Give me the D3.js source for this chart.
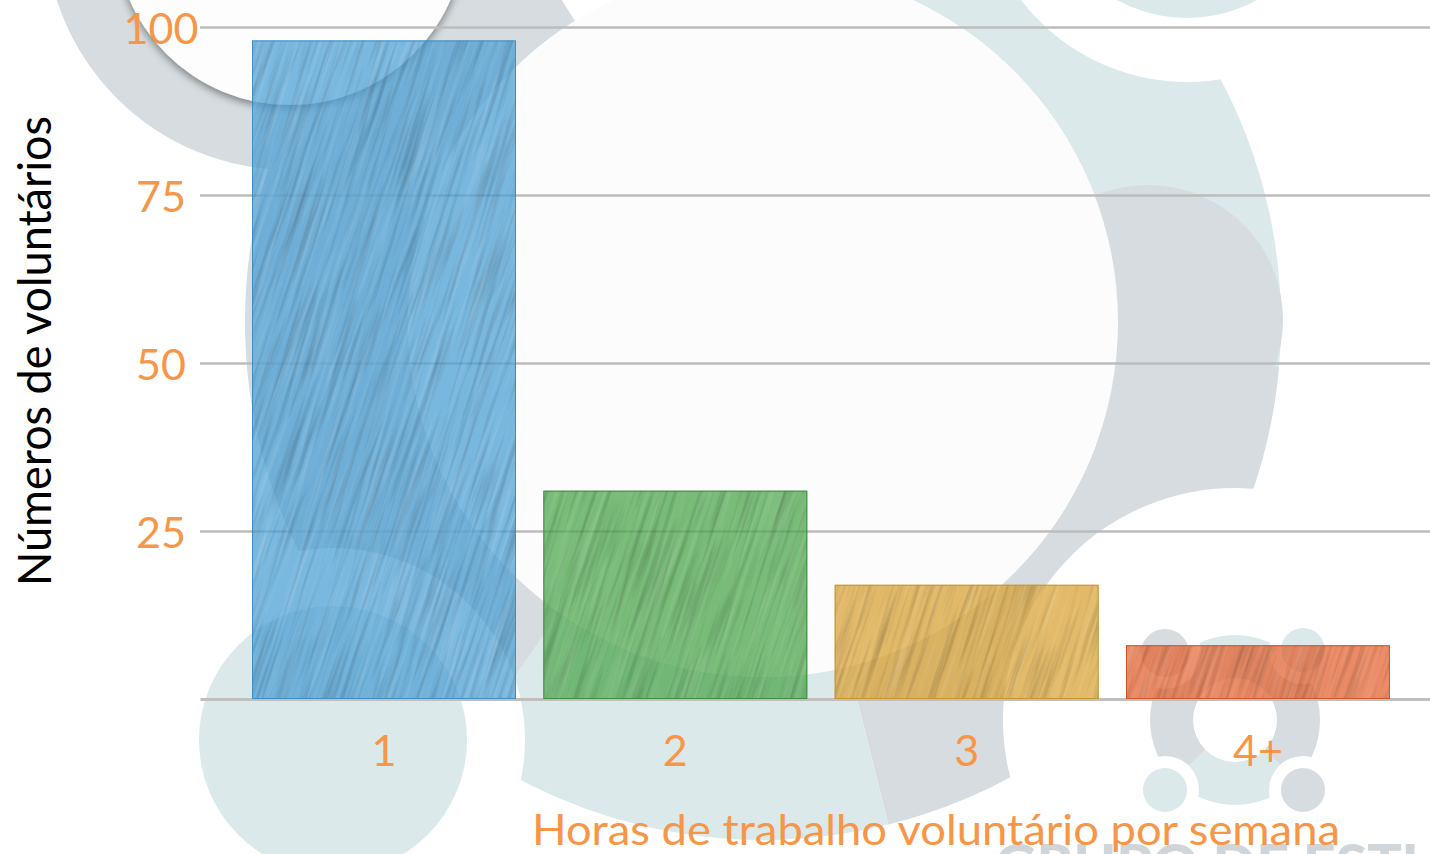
<!DOCTYPE html>
<html>
<head>
<meta charset="utf-8">
<script src="https://cdn.jsdelivr.net/npm/d3@7"></script>
<style>
  html, body { margin: 0; padding: 0; background: #ffffff; overflow: hidden; }
  svg { display: block; }
  text { font-family: Lato, "Open Sans", sans-serif; }
</style>
</head>
<body>
<script>
// ---------- data ----------
const categories = ["1", "2", "3", "4+"];
const values = [98, 31, 17, 8];
const yTicks = [25, 50, 75, 100];
const yDomain = [0, 100];
const barFill = ["#4a9fd4", "#4ca64c", "#d9a235", "#e2622f"];
const barStroke = ["#3f8fc4", "#3d8f3d", "#c99428", "#cf5526"];
const yTitle = "Números de voluntários";
const xTitle = "Horas de trabalho voluntário por semana";
const watermarkText = "GRUPO DE ESTUDO";

// ---------- setup ----------
const W = 1430, H = 854;
const BLUE = "#dbe9eb", GRAY = "#d6dcdf", ORANGE = "#f79646";
const svg = d3.select("body").append("svg").attr("width", W).attr("height", H);
const defs = svg.append("defs");

const shadow = defs.append("filter").attr("id", "shadow")
  .attr("x", "-20%").attr("y", "-20%").attr("width", "140%").attr("height", "140%");
shadow.append("feDropShadow").attr("dx", 0).attr("dy", 3).attr("stdDeviation", 4)
  .attr("flood-color", "#000").attr("flood-opacity", 0.45);

function streakFilter(id, seed, matrix) {
  const f = defs.append("filter").attr("id", id)
    .attr("filterUnits", "userSpaceOnUse")
    .attr("x", -600).attr("y", -800).attr("width", 2800).attr("height", 2600);
  f.append("feTurbulence").attr("type", "fractalNoise")
    .attr("baseFrequency", "0.22 0.009").attr("numOctaves", 3).attr("seed", seed);
  f.append("feColorMatrix").attr("type", "matrix").attr("values", matrix);
}
streakFilter("streakDark", 7, "0 0 0 0 0  0 0 0 0 0  0 0 0 0 0  2.4 0 0 0 -1.1");
streakFilter("streakLight", 13, "0 0 0 0 1  0 0 0 0 1  0 0 0 0 1  -2.4 0 0 0 1.3");

// ---------- watermark background ----------
const bg = svg.append("g");
bg.append("rect").attr("width", W).attr("height", H).attr("fill", "#ffffff");

// big logo ring
const ringC = [763, 322];
const ringArc = d3.arc().innerRadius(355).outerRadius(518);
const ringSegs = [[25, 95, BLUE], [95, 166, GRAY], [166, 215, BLUE], [215, 328, GRAY]];
bg.selectAll("path.ring").data(ringSegs).join("path")
  .attr("transform", `translate(${ringC})`)
  .attr("d", d => ringArc({startAngle: d[0] * Math.PI / 180, endAngle: d[1] * Math.PI / 180}))
  .attr("fill", d => d[2]);
bg.append("circle").attr("cx", 1148).attr("cy", 320).attr("r", 135).attr("fill", GRAY);
bg.append("circle").attr("cx", ringC[0]).attr("cy", ringC[1]).attr("r", 355).attr("fill", "#fcfcfc");

// notches (white gaps) around heads
[[333, 740, 192], [1187, -127, 209], [1235, 720, 232]].forEach(n =>
  bg.append("circle").attr("cx", n[0]).attr("cy", n[1]).attr("r", n[2]).attr("fill", "#ffffff"));

// heads
bg.append("circle").attr("cx", 333).attr("cy", 740).attr("r", 134).attr("fill", BLUE);
bg.append("circle").attr("cx", 1187).attr("cy", -127).attr("r", 145).attr("fill", BLUE);
bg.append("circle").attr("cx", 290).attr("cy", -75).attr("r", 245).attr("fill", GRAY);
bg.append("circle").attr("cx", 290).attr("cy", -70).attr("r", 175).attr("fill", "#fdfdfd")
  .attr("filter", "url(#shadow)");

// small logo
const sC = [1235, 720];
const sArc = d3.arc().innerRadius(42).outerRadius(85);
const sSegs = [[-45, 45, BLUE], [45, 135, GRAY], [135, 225, BLUE], [225, 315, GRAY]];
bg.selectAll("path.sring").data(sSegs).join("path")
  .attr("transform", `translate(${sC})`)
  .attr("d", d => sArc({startAngle: d[0] * Math.PI / 180, endAngle: d[1] * Math.PI / 180}))
  .attr("fill", d => d[2]);
const sHeads = [[-70, -67, GRAY, 24], [68, -70, BLUE, 22], [-70, 70, BLUE, 22], [68, 70, GRAY, 22]];
sHeads.forEach(h => bg.append("circle").attr("cx", sC[0] + h[0]).attr("cy", sC[1] + h[1])
  .attr("r", h[3] + 12).attr("fill", "#ffffff"));
sHeads.forEach(h => bg.append("circle").attr("cx", sC[0] + h[0]).attr("cy", sC[1] + h[1])
  .attr("r", h[3]).attr("fill", h[2]));

bg.append("text").attr("x", 995).attr("y", 884).attr("font-size", 56).attr("font-weight", 900)
  .attr("fill", "#cfd5d8").attr("textLength", 540).attr("lengthAdjust", "spacingAndGlyphs")
  .text(watermarkText);

// ---------- scales ----------
const x = d3.scaleBand().domain(categories).range([200, 1430])
  .paddingInner(0.094).paddingOuter(0.158).align(0.565);
const y = d3.scaleLinear().domain(yDomain).range([699, 27]);

// ---------- grid / y axis ----------
const gy = svg.append("g").attr("transform", "translate(200,0)")
  .call(d3.axisLeft(y).tickValues(yTicks).tickSize(-1230).tickPadding(0));
gy.select(".domain").remove();
gy.selectAll(".tick line").attr("stroke", "#bcbcbc").attr("stroke-width", 2.5);
gy.selectAll(".tick text").attr("x", -39).attr("dy", "0.39em")
  .attr("text-anchor", "middle").attr("font-size", 43).attr("fill", ORANGE)
  .attr("font-family", "Lato, sans-serif");

// ---------- x axis ----------
const gx = svg.append("g").attr("transform", "translate(0,699)")
  .call(d3.axisBottom(x).tickSize(0).tickSizeOuter(0));
gx.select(".domain").attr("stroke", "#bfbfbf").attr("stroke-width", 3);
gx.selectAll(".tick text").attr("y", 67).attr("dy", 0)
  .attr("font-size", 43).attr("fill", ORANGE).attr("font-family", "Lato, sans-serif");

// ---------- bars ----------
const rows = categories.map((c, i) => ({c, v: values[i], i}));
const clip = defs.append("clipPath").attr("id", "barsClip");
clip.selectAll("rect").data(rows).join("rect")
  .attr("x", d => x(d.c)).attr("y", d => y(d.v))
  .attr("width", x.bandwidth()).attr("height", d => y(0) - y(d.v));

svg.append("g").selectAll("rect").data(rows).join("rect")
  .attr("x", d => x(d.c)).attr("y", d => y(d.v))
  .attr("width", x.bandwidth()).attr("height", d => y(0) - y(d.v))
  .attr("fill", d => barFill[d.i]).attr("fill-opacity", 0.74);

const tex = svg.append("g").attr("clip-path", "url(#barsClip)");
tex.append("rect").attr("x", -300).attr("y", -500).attr("width", 2200).attr("height", 1900)
  .attr("transform", "rotate(18,800,400)").attr("filter", "url(#streakDark)").attr("opacity", 0.18);
tex.append("rect").attr("x", -300).attr("y", -500).attr("width", 2200).attr("height", 1900)
  .attr("transform", "rotate(18,800,400)").attr("filter", "url(#streakLight)").attr("opacity", 0.14);

svg.append("g").selectAll("rect").data(rows).join("rect")
  .attr("x", d => x(d.c) + 0.5).attr("y", d => y(d.v) + 0.5)
  .attr("width", x.bandwidth() - 1).attr("height", d => y(0) - y(d.v) - 1)
  .attr("fill", "none").attr("stroke", d => barStroke[d.i]).attr("stroke-width", 1);

// ---------- titles ----------
svg.append("text").attr("transform", "translate(51,351) rotate(-90)")
  .attr("text-anchor", "middle").attr("font-size", 46).attr("fill", "#000")
  .attr("textLength", 470).attr("lengthAdjust", "spacingAndGlyphs").text(yTitle);
svg.append("text").attr("x", 936).attr("y", 845)
  .attr("text-anchor", "middle").attr("font-size", 42).attr("fill", ORANGE)
  .attr("textLength", 808).attr("lengthAdjust", "spacingAndGlyphs").text(xTitle);
</script>
</body>
</html>
